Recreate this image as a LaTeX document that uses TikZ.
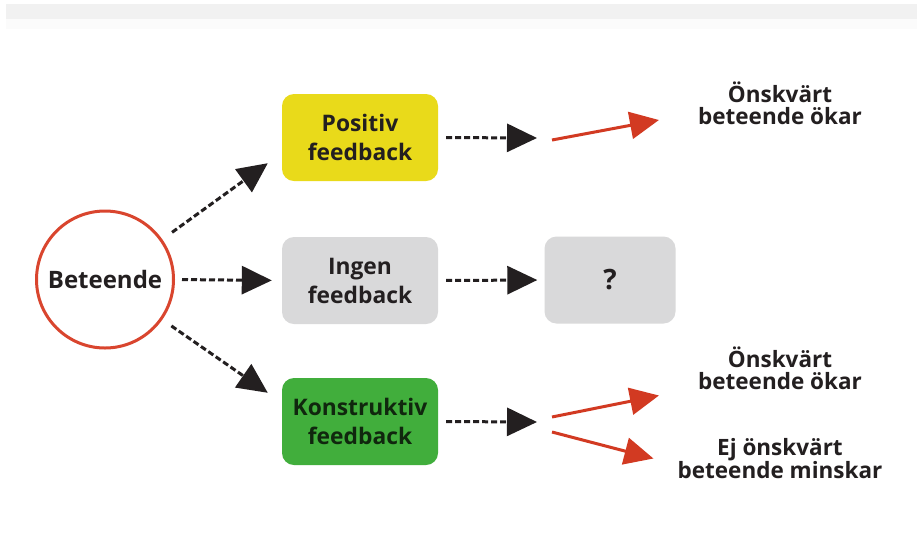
\documentclass[tikz,border=0pt]{standalone}
\usepackage{fontspec}
\setmainfont{Open Sans}
\usetikzlibrary{arrows.meta,calc}
\definecolor{txt}{HTML}{231F20}
\definecolor{ringred}{HTML}{D9452E}
\definecolor{arrred}{HTML}{D23A22}
\definecolor{posyel}{HTML}{E9DA1A}
\definecolor{nogray}{HTML}{D9D9DA}
\definecolor{kongreen}{HTML}{41AE3C}
\definecolor{konTxt}{HTML}{10270E}
\definecolor{band}{HTML}{F1F1F1}
\definecolor{bandlight}{HTML}{FBFBFB}
\tikzset{
  fbbox/.style={rounded corners=12pt, minimum width=156pt, minimum height=87pt,
    align=center, text=txt, inner sep=0pt,
    font=\bfseries\fontsize{22.8}{29}\selectfont},
  lbl/.style={align=center, text=txt, inner sep=0pt,
    font=\bfseries\fontsize{22.5}{22}\selectfont},
  dasharrow/.style={line width=3pt, dash pattern=on 6pt off 3pt, draw=txt,
    -{Triangle[length=30pt,width=28pt]}},
  redarrow/.style={line width=3pt, draw=arrred,
    -{Triangle[length=29pt,width=27pt,fill=arrred]}},
}
\begin{document}
\begin{tikzpicture}[x=1pt,y=-1pt]
\useasboundingbox (0,0) rectangle (917,558);
\fill[white] (0,0) rectangle (917,558);
\fill[bandlight] (6,19) rectangle (917,29);
\fill[band] (6,4) rectangle (917,19);

\node[circle, draw=ringred, line width=3pt, minimum size=137pt, inner sep=0pt,
  text=txt, font=\bfseries\fontsize{24}{28}\selectfont] (beh) at (105,279.5) {Beteende};

\node[fbbox, fill=posyel] (pos) at (360,137.5) {Positiv\\feedback};
\node[fbbox, fill=nogray] (ing) at (360,280.5) {Ingen\\feedback};
\node[fbbox, fill=kongreen, text=konTxt] (kon) at (360,421.5) {Konstruktiv\\feedback};
\node[rounded corners=12pt, minimum width=131pt, minimum height=87pt, fill=nogray,
  text=txt, inner sep=0pt, font=\bfseries\fontsize{28}{30}\selectfont] (q) at (610,280) {?};

\node[lbl] (ok1) at (780,103) {Önskvärt\\beteende ökar};
\node[lbl] (ok2) at (780,368.5) {Önskvärt\\beteende ökar};
\node[lbl] (mi) at (780,458.5) {Ej önskvärt\\beteende minskar};

\coordinate (pend) at (537,138);
\coordinate (kend) at (537,422);
\coordinate (r1s) at (552,140);
\coordinate (r2s) at (552,417);
\coordinate (r3s) at (552,432);

\draw[dasharrow, shorten <=12pt] (beh.35) -- ($(pos.south west)+(-14,-18)$);
\draw[dasharrow, shorten <=7pt, shorten >=10pt] (beh.east) -- (ing.west);
\draw[dasharrow, shorten <=11pt] (beh.-35) -- ($(kon.north west)+(-14,15)$);

\draw[dasharrow, shorten <=8pt] (pos.east) -- (pend);
\draw[dasharrow, shorten <=8pt, shorten >=7pt] (ing.east) -- (q.west);
\draw[dasharrow, shorten <=8pt] (kon.east) -- (kend);

\draw[redarrow] (r1s) -- ($(ok1.west)+(-39,17)$);
\draw[redarrow] (r2s) -- ($(ok2.west)+(-39,27)$);
\draw[redarrow] (r3s) -- ($(mi.west)+(-24,0)$);
\end{tikzpicture}
\end{document}
